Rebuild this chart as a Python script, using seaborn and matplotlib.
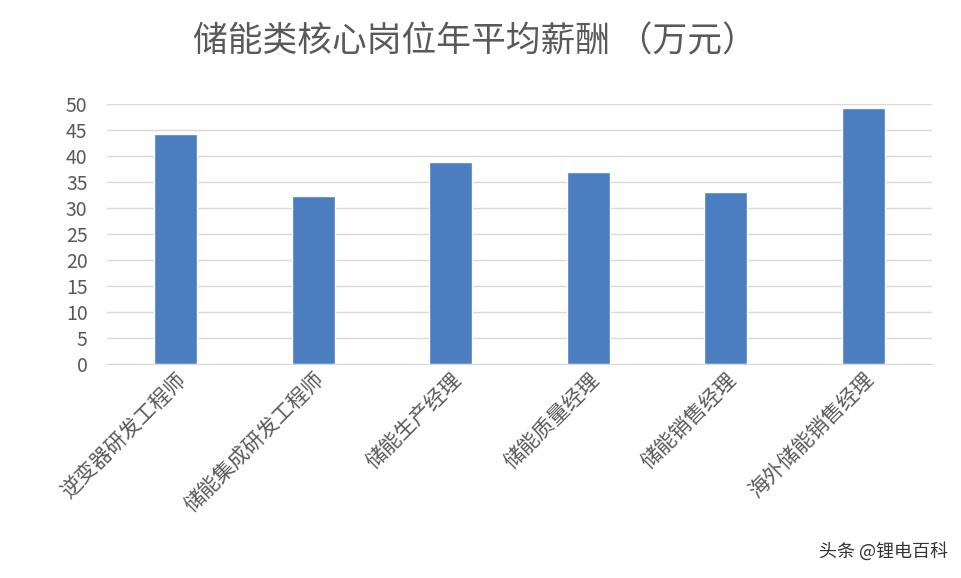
import matplotlib
matplotlib.use("Agg")
import matplotlib.pyplot as plt
import seaborn as sns
import pandas as pd

jobs = ["逆变器研发工程师", "储能集成研发工程师", "储能生产经理",
        "储能质量经理", "储能销售经理", "海外储能销售经理"]
salary = [44.2, 32.3, 38.8, 36.9, 33.1, 49.2]
yticks = list(range(0, 55, 5))

sns.set_style("white")
plt.rcParams['font.family'] = ['Noto Sans CJK SC', 'DejaVu Sans']

df = pd.DataFrame({"job": jobs, "salary": salary})
fig = plt.figure(figsize=(9.62, 5.78), dpi=100)
ax = fig.add_axes([107 / 962, 1 - 364 / 578, 825 / 962, 260 / 578])
sns.barplot(data=df, x="job", y="salary", color="#4A7EC0", width=0.31,
            saturation=1, ax=ax)
ax.set_xlim(-0.5, 5.5)
ax.set_ylim(0, 50)
ax.set_yticks(yticks)
ax.yaxis.grid(True, color="#D9D9D9", linewidth=1)
ax.set_axisbelow(True)
for s in ["top", "right", "left"]:
    ax.spines[s].set_visible(False)
ax.spines["bottom"].set_color("#D9D9D9")
ax.tick_params(axis="y", length=0, labelsize=14, colors="#595959", pad=14)
ax.tick_params(axis="x", length=0, labelsize=15, colors="#595959")
ax.set_xticks(range(len(jobs)))
ax.set_xticklabels(jobs, rotation=45, ha="right", rotation_mode="anchor")
ax.set_xlabel("")
ax.set_ylabel("")
fig.text(0.494, 1 - 42 / 578, "储能类核心岗位年平均薪酬 （万元）", ha="center",
         va="center", fontsize=25, color="#595959")
fig.text(0.985, 0.03, "头条 @锂电百科", ha="right", va="bottom",
         fontsize=13, color="#333333")
fig.savefig("out.png", dpi=100)
